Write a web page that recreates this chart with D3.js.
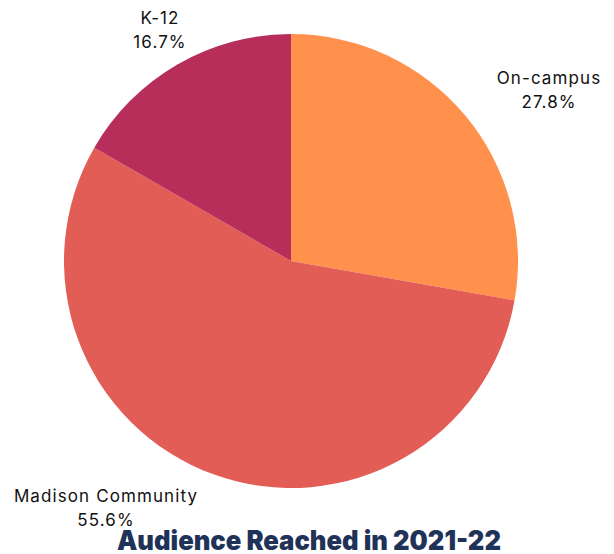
<!DOCTYPE html>
<html><head><meta charset="utf-8">
<script src="https://cdn.jsdelivr.net/npm/d3@7"></script>
<style>body{margin:0;background:#fff}svg{display:block}</style>
</head><body>
<script>
const categories = ["On-campus", "Madison Community", "K-12"];
const values = [27.8, 55.6, 16.7];
const colors = ["#FF914D", "#E35D57", "#B82E5A"];
const labelText = ["27.8%", "55.6%", "16.7%"];
const title = "Audience Reached in 2021-22";

const W = 614, H = 554;
const svg = d3.select("body").append("svg").attr("width", W).attr("height", H);
const cx = 291, cy = 261, r = 227;
const data = categories.map((c, i) => ({cat: c, v: values[i], color: colors[i], label: labelText[i]}));
const pie = d3.pie().value(d => d.v).sort(null);
const arcs = pie(data);
const arc = d3.arc().innerRadius(0).outerRadius(r);
const g = svg.append("g").attr("transform", `translate(${cx},${cy})`);
g.selectAll("path").data(arcs).join("path").attr("d", arc).attr("fill", d => d.data.color);

const labelPos = {"On-campus": [549, 84], "Madison Community": [106, 502], "K-12": [160, 24]};
const lg = svg.append("g").attr("font-family", "Inter, 'Open Sans', sans-serif").attr("font-size", 17)
  .attr("letter-spacing", 1.1).attr("fill", "#111");
arcs.forEach(a => {
  const [x, y] = labelPos[a.data.cat];
  const t = lg.append("text").attr("text-anchor", "middle").attr("x", x).attr("y", y);
  t.append("tspan").attr("x", x).text(a.data.cat);
  t.append("tspan").attr("x", x).attr("dy", 24).text(a.data.label);
});

const tt = svg.append("text").attr("x", 309).attr("y", 550).attr("text-anchor", "middle")
  .attr("font-family", "Inter, sans-serif").attr("font-weight", 900).attr("font-size", 27)
  .attr("fill", "#1F3358").text(title);
const w = tt.node().getComputedTextLength();
if (w > 0) tt.attr("textLength", 384).attr("lengthAdjust", "spacingAndGlyphs");
</script>
</body></html>
